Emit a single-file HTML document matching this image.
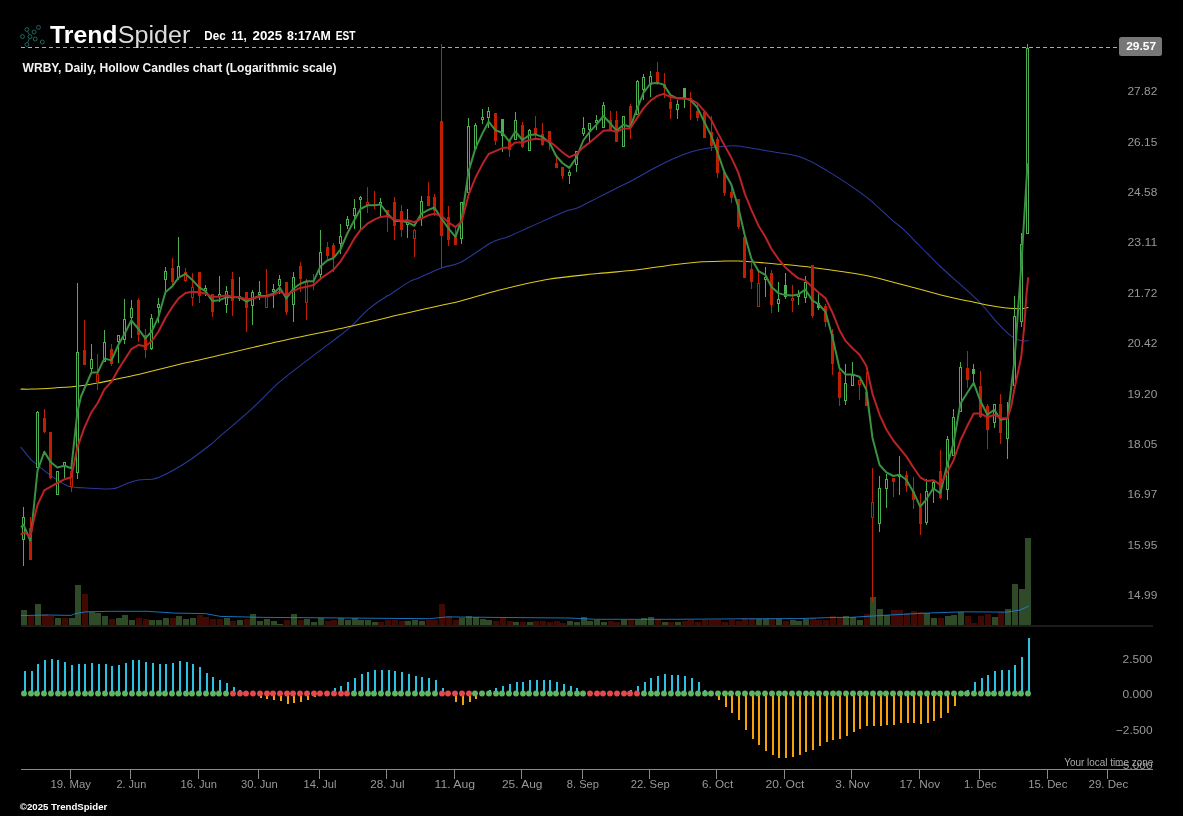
<!DOCTYPE html>
<html lang="en"><head><meta charset="utf-8"><title>TrendSpider WRBY Daily chart</title>
<style>html,body{margin:0;padding:0;background:#000;}body{width:1183px;height:816px;overflow:hidden;}svg{display:block;}text{font-family:"Liberation Sans",sans-serif;}</style>
</head><body>
<svg width="1183" height="816" viewBox="0 0 1183 816">
<rect width="1183" height="816" fill="#000"/>
<g shape-rendering="crispEdges">
<rect x="21" y="610" width="6" height="15" fill="#2f4a27"/>
<rect x="28" y="616" width="6" height="9" fill="#400a02"/>
<rect x="35" y="604" width="6" height="21" fill="#2f4a27"/>
<rect x="42" y="614" width="6" height="11" fill="#400a02"/>
<rect x="48" y="616" width="6" height="9" fill="#400a02"/>
<rect x="55" y="618" width="6" height="7" fill="#2f4a27"/>
<rect x="62" y="618" width="6" height="7" fill="#400a02"/>
<rect x="69" y="618" width="6" height="7" fill="#2f4a27"/>
<rect x="75" y="585" width="6" height="40" fill="#2f4a27"/>
<rect x="82" y="594" width="6" height="31" fill="#400a02"/>
<rect x="89" y="612" width="6" height="13" fill="#2f4a27"/>
<rect x="95" y="613" width="6" height="12" fill="#2f4a27"/>
<rect x="102" y="616" width="6" height="9" fill="#2f4a27"/>
<rect x="109" y="619" width="6" height="6" fill="#400a02"/>
<rect x="116" y="618" width="6" height="7" fill="#2f4a27"/>
<rect x="122" y="615" width="6" height="10" fill="#2f4a27"/>
<rect x="129" y="620" width="6" height="5" fill="#2f4a27"/>
<rect x="136" y="618" width="6" height="7" fill="#400a02"/>
<rect x="143" y="619" width="6" height="6" fill="#400a02"/>
<rect x="149" y="620" width="6" height="5" fill="#2f4a27"/>
<rect x="156" y="620" width="6" height="5" fill="#2f4a27"/>
<rect x="163" y="618" width="6" height="7" fill="#2f4a27"/>
<rect x="170" y="618" width="6" height="7" fill="#400a02"/>
<rect x="176" y="616" width="6" height="9" fill="#2f4a27"/>
<rect x="183" y="619" width="6" height="6" fill="#2f4a27"/>
<rect x="190" y="618" width="6" height="7" fill="#2f4a27"/>
<rect x="197" y="615" width="6" height="10" fill="#400a02"/>
<rect x="203" y="617" width="6" height="8" fill="#400a02"/>
<rect x="210" y="619" width="6" height="6" fill="#400a02"/>
<rect x="217" y="619" width="6" height="6" fill="#400a02"/>
<rect x="224" y="618" width="6" height="7" fill="#2f4a27"/>
<rect x="230" y="621" width="6" height="4" fill="#400a02"/>
<rect x="237" y="620" width="6" height="5" fill="#2f4a27"/>
<rect x="244" y="619" width="6" height="6" fill="#400a02"/>
<rect x="250" y="614" width="6" height="11" fill="#2f4a27"/>
<rect x="257" y="621" width="6" height="4" fill="#2f4a27"/>
<rect x="264" y="619" width="6" height="6" fill="#2f4a27"/>
<rect x="271" y="621" width="6" height="4" fill="#2f4a27"/>
<rect x="277" y="624" width="6" height="1" fill="#2f4a27"/>
<rect x="284" y="620" width="6" height="5" fill="#400a02"/>
<rect x="291" y="614" width="6" height="11" fill="#2f4a27"/>
<rect x="298" y="620" width="6" height="5" fill="#400a02"/>
<rect x="304" y="619" width="6" height="6" fill="#2f4a27"/>
<rect x="311" y="622" width="6" height="3" fill="#2f4a27"/>
<rect x="318" y="618" width="6" height="7" fill="#2f4a27"/>
<rect x="325" y="621" width="6" height="4" fill="#400a02"/>
<rect x="331" y="620" width="6" height="5" fill="#400a02"/>
<rect x="338" y="618" width="6" height="7" fill="#2f4a27"/>
<rect x="345" y="620" width="6" height="5" fill="#2f4a27"/>
<rect x="352" y="618" width="6" height="7" fill="#2f4a27"/>
<rect x="358" y="620" width="6" height="5" fill="#2f4a27"/>
<rect x="365" y="620" width="6" height="5" fill="#2f4a27"/>
<rect x="372" y="622" width="6" height="3" fill="#2f4a27"/>
<rect x="378" y="622" width="6" height="3" fill="#400a02"/>
<rect x="385" y="620" width="6" height="5" fill="#400a02"/>
<rect x="392" y="620" width="6" height="5" fill="#400a02"/>
<rect x="399" y="621" width="6" height="4" fill="#400a02"/>
<rect x="405" y="621" width="6" height="4" fill="#2f4a27"/>
<rect x="412" y="620" width="6" height="5" fill="#2f4a27"/>
<rect x="419" y="621" width="6" height="4" fill="#2f4a27"/>
<rect x="426" y="620" width="6" height="5" fill="#400a02"/>
<rect x="432" y="620" width="6" height="5" fill="#400a02"/>
<rect x="439" y="604" width="6" height="21" fill="#400a02"/>
<rect x="446" y="616" width="6" height="9" fill="#400a02"/>
<rect x="453" y="620" width="6" height="5" fill="#400a02"/>
<rect x="459" y="618" width="6" height="7" fill="#2f4a27"/>
<rect x="466" y="616" width="6" height="9" fill="#2f4a27"/>
<rect x="473" y="617" width="6" height="8" fill="#2f4a27"/>
<rect x="480" y="619" width="6" height="6" fill="#2f4a27"/>
<rect x="486" y="620" width="6" height="5" fill="#2f4a27"/>
<rect x="493" y="621" width="6" height="4" fill="#400a02"/>
<rect x="500" y="618" width="6" height="7" fill="#400a02"/>
<rect x="507" y="621" width="6" height="4" fill="#400a02"/>
<rect x="513" y="622" width="6" height="3" fill="#2f4a27"/>
<rect x="520" y="622" width="6" height="3" fill="#400a02"/>
<rect x="527" y="622" width="6" height="3" fill="#2f4a27"/>
<rect x="533" y="621" width="6" height="4" fill="#400a02"/>
<rect x="540" y="621" width="6" height="4" fill="#400a02"/>
<rect x="547" y="622" width="6" height="3" fill="#400a02"/>
<rect x="554" y="621" width="6" height="4" fill="#400a02"/>
<rect x="560" y="623" width="6" height="2" fill="#400a02"/>
<rect x="567" y="621" width="6" height="4" fill="#2f4a27"/>
<rect x="574" y="622" width="6" height="3" fill="#2f4a27"/>
<rect x="581" y="617" width="6" height="8" fill="#2f4a27"/>
<rect x="587" y="621" width="6" height="4" fill="#2f4a27"/>
<rect x="594" y="620" width="6" height="5" fill="#2f4a27"/>
<rect x="601" y="622" width="6" height="3" fill="#2f4a27"/>
<rect x="608" y="621" width="6" height="4" fill="#400a02"/>
<rect x="614" y="622" width="6" height="3" fill="#400a02"/>
<rect x="621" y="620" width="6" height="5" fill="#2f4a27"/>
<rect x="628" y="620" width="6" height="5" fill="#400a02"/>
<rect x="635" y="620" width="6" height="5" fill="#2f4a27"/>
<rect x="641" y="618" width="6" height="7" fill="#2f4a27"/>
<rect x="648" y="617" width="6" height="8" fill="#2f4a27"/>
<rect x="655" y="619" width="6" height="6" fill="#400a02"/>
<rect x="662" y="622" width="6" height="3" fill="#2f4a27"/>
<rect x="668" y="622" width="6" height="3" fill="#400a02"/>
<rect x="675" y="622" width="6" height="3" fill="#2f4a27"/>
<rect x="682" y="621" width="6" height="4" fill="#400a02"/>
<rect x="688" y="620" width="6" height="5" fill="#400a02"/>
<rect x="695" y="622" width="6" height="3" fill="#400a02"/>
<rect x="702" y="620" width="6" height="5" fill="#400a02"/>
<rect x="709" y="620" width="6" height="5" fill="#400a02"/>
<rect x="715" y="620" width="6" height="5" fill="#400a02"/>
<rect x="722" y="622" width="6" height="3" fill="#400a02"/>
<rect x="729" y="620" width="6" height="5" fill="#400a02"/>
<rect x="736" y="621" width="6" height="4" fill="#400a02"/>
<rect x="742" y="618" width="6" height="7" fill="#400a02"/>
<rect x="749" y="618" width="6" height="7" fill="#400a02"/>
<rect x="756" y="619" width="6" height="6" fill="#2f4a27"/>
<rect x="763" y="619" width="6" height="6" fill="#2f4a27"/>
<rect x="769" y="619" width="6" height="6" fill="#400a02"/>
<rect x="776" y="619" width="6" height="6" fill="#2f4a27"/>
<rect x="783" y="621" width="6" height="4" fill="#400a02"/>
<rect x="790" y="620" width="6" height="5" fill="#2f4a27"/>
<rect x="796" y="621" width="6" height="4" fill="#2f4a27"/>
<rect x="803" y="619" width="6" height="6" fill="#2f4a27"/>
<rect x="810" y="618" width="6" height="7" fill="#400a02"/>
<rect x="816" y="620" width="6" height="5" fill="#400a02"/>
<rect x="823" y="620" width="6" height="5" fill="#400a02"/>
<rect x="830" y="616" width="6" height="9" fill="#400a02"/>
<rect x="837" y="617" width="6" height="8" fill="#400a02"/>
<rect x="843" y="616" width="6" height="9" fill="#2f4a27"/>
<rect x="850" y="617" width="6" height="8" fill="#2f4a27"/>
<rect x="857" y="620" width="6" height="5" fill="#2f4a27"/>
<rect x="864" y="614" width="6" height="11" fill="#400a02"/>
<rect x="870" y="597" width="6" height="28" fill="#2f4a27"/>
<rect x="877" y="609" width="6" height="16" fill="#2f4a27"/>
<rect x="884" y="615" width="6" height="10" fill="#2f4a27"/>
<rect x="891" y="610" width="6" height="15" fill="#400a02"/>
<rect x="897" y="610" width="6" height="15" fill="#400a02"/>
<rect x="904" y="613" width="6" height="12" fill="#400a02"/>
<rect x="911" y="611" width="6" height="14" fill="#400a02"/>
<rect x="918" y="612" width="6" height="13" fill="#400a02"/>
<rect x="924" y="613" width="6" height="12" fill="#2f4a27"/>
<rect x="931" y="618" width="6" height="7" fill="#2f4a27"/>
<rect x="938" y="618" width="6" height="7" fill="#400a02"/>
<rect x="945" y="616" width="6" height="9" fill="#2f4a27"/>
<rect x="951" y="615" width="6" height="10" fill="#2f4a27"/>
<rect x="958" y="612" width="6" height="13" fill="#2f4a27"/>
<rect x="965" y="616" width="6" height="9" fill="#400a02"/>
<rect x="971" y="623" width="6" height="2" fill="#400a02"/>
<rect x="978" y="616" width="6" height="9" fill="#400a02"/>
<rect x="985" y="614" width="6" height="11" fill="#400a02"/>
<rect x="992" y="617" width="6" height="8" fill="#2f4a27"/>
<rect x="998" y="612" width="6" height="13" fill="#400a02"/>
<rect x="1005" y="609" width="6" height="16" fill="#2f4a27"/>
<rect x="1012" y="584" width="6" height="41" fill="#2f4a27"/>
<rect x="1019" y="589" width="6" height="36" fill="#2f4a27"/>
<rect x="1025" y="538" width="6" height="87" fill="#2f4a27"/>
</g>
<polyline fill="none" stroke="#1d84dc" stroke-width="1" stroke-opacity="0.85" points="20.9,615.6 48,615 70.9,615.4 76,613.5 86,611.8 111.4,611.3 147,611.3 174.8,613.1 205.3,613.6 220.5,616.4 263.6,617.4 310,617.7 366,618.2 429.5,618.7 447.2,616.9 492.9,617.4 569,618 595.4,619.3 671.4,619.3 747.5,618.8 798.3,618.6 836.3,617.4 850,617.4 888,615.1 926,613.1 964,611.8 1007,612.1 1020,610 1028.8,606.2"/>
<rect x="21" y="625" width="1132" height="2" fill="#1c1c1c"/>
<line x1="21" y1="47.5" x2="1119" y2="47.5" stroke="#aaa" stroke-width="1" stroke-dasharray="4 3"/>
<path fill="none" stroke="#2a3a9c" stroke-width="1.05" stroke-linecap="round" d="M21.0 447.4 C22.6 449.3 27.6 456.0 30.3 458.9 C33.0 461.8 34.1 462.2 37.5 465.0 C40.9 467.8 46.2 472.4 50.7 475.6 C55.2 478.8 61.0 482.3 64.4 484.2 C67.8 486.1 68.1 486.5 71.3 487.1 C74.5 487.7 76.8 487.5 83.5 487.8 C90.2 488.1 104.8 489.4 111.7 488.8 C118.7 488.2 120.8 485.7 125.2 484.2 C129.7 482.7 134.0 480.8 138.4 480.0 C142.8 479.2 148.3 479.7 151.7 479.3 C155.0 478.9 155.1 478.9 158.5 477.5 C161.9 476.1 167.1 473.6 172.3 470.7 C177.6 467.8 183.7 464.3 190.0 460.0 C196.3 455.7 204.9 449.0 210.0 445.0 C215.1 441.0 213.6 441.8 220.4 435.9 C227.2 430.0 241.1 418.6 250.9 409.6 C260.7 400.7 269.2 391.0 279.3 382.2 C289.4 373.4 301.6 364.6 311.7 356.8 C321.8 349.0 333.3 340.7 340.1 335.5 C346.9 330.3 347.6 329.8 352.3 325.4 C357.0 321.0 362.8 313.9 368.5 309.1 C374.2 304.3 382.7 298.9 386.3 296.5 C389.9 294.1 386.3 297.0 390.0 294.6 C393.7 292.2 403.7 285.0 408.7 282.1 C413.7 279.2 414.5 279.8 420.0 277.4 C425.5 275.0 434.6 270.6 441.6 268.0 C448.6 265.4 453.6 265.9 461.8 261.7 C470.0 257.5 483.4 246.8 491.0 242.7 C498.6 238.6 501.5 239.3 507.5 236.9 C513.5 234.5 519.6 231.6 527.0 228.3 C534.4 225.0 545.1 220.2 551.6 217.3 C558.1 214.4 562.0 212.7 566.3 211.1 C570.6 209.5 572.1 210.1 577.2 207.9 C582.3 205.7 590.3 201.4 596.8 198.1 C603.3 194.8 610.3 191.4 616.4 188.3 C622.5 185.2 627.4 183.0 633.5 179.7 C639.6 176.4 646.6 172.2 653.1 168.7 C659.6 165.2 666.2 161.8 672.7 158.9 C679.2 156.0 685.9 153.4 692.4 151.5 C698.9 149.6 706.5 148.3 712.0 147.4 C717.5 146.5 721.1 146.5 725.4 146.3 C729.7 146.1 731.7 145.3 738.0 146.0 C744.3 146.7 753.2 148.5 763.4 150.3 C773.5 152.1 788.3 153.2 798.9 156.6 C809.5 160.0 815.8 164.0 826.8 170.6 C837.8 177.2 854.0 187.7 864.8 195.9 C875.6 204.1 885.2 214.1 891.6 219.6 C898.0 225.1 898.2 224.5 902.9 228.9 C907.6 233.3 913.7 239.7 920.0 246.0 C926.3 252.3 934.2 260.6 940.9 267.0 C947.6 273.4 954.8 279.5 960.0 284.2 C965.2 288.9 968.2 291.3 972.3 295.2 C976.4 299.1 980.4 303.0 984.5 307.5 C988.6 312.0 992.7 317.7 996.8 322.2 C1000.9 326.7 1005.7 331.5 1009.0 334.4 C1012.3 337.2 1013.9 338.2 1016.4 339.3 C1018.9 340.4 1021.8 340.8 1023.7 341.0 C1025.7 341.2 1027.4 340.6 1028.1 340.5"/>
<path fill="none" stroke="#ddca1c" stroke-width="1.05" stroke-linecap="round" d="M21.0 389.1 C22.8 389.1 26.5 389.3 32.0 389.1 C37.5 388.9 46.5 388.4 54.1 387.9 C61.7 387.4 70.1 387.0 77.4 386.2 C84.7 385.4 90.9 384.2 97.7 383.0 C104.5 381.8 111.5 380.2 118.3 378.8 C125.1 377.4 131.7 375.9 138.4 374.4 C145.1 372.8 151.8 371.1 158.5 369.5 C165.2 367.9 173.3 365.9 178.6 364.6 C183.8 363.3 186.6 362.7 190.0 361.9 C193.4 361.1 185.7 363.1 199.2 360.0 C212.7 356.9 245.7 348.9 271.2 343.2 C296.7 337.5 330.8 330.8 352.3 326.0 C373.8 321.2 388.7 317.3 400.0 314.6 C411.3 311.9 409.9 312.2 420.0 309.9 C430.1 307.6 447.9 304.2 460.6 301.0 C473.3 297.8 481.7 294.5 496.1 290.9 C510.5 287.3 529.9 282.4 546.8 279.5 C563.7 276.6 582.7 275.2 597.5 273.6 C612.3 272.0 622.9 271.6 635.6 270.1 C648.3 268.6 663.0 266.1 673.6 264.7 C684.2 263.3 691.3 262.6 699.0 262.0 C706.7 261.4 713.5 261.3 720.0 261.2 C726.5 261.1 728.7 260.7 738.0 261.1 C747.3 261.6 763.3 262.8 776.0 263.9 C788.7 265.0 799.3 265.8 814.1 267.7 C828.9 269.6 850.0 272.5 864.8 275.3 C879.6 278.1 890.2 281.4 902.9 284.7 C915.6 288.0 931.4 292.4 940.9 294.9 C950.4 297.3 954.8 298.2 960.0 299.4 C965.2 300.5 968.2 300.9 972.3 301.8 C976.4 302.7 980.4 303.7 984.5 304.5 C988.6 305.3 992.7 306.1 996.8 306.7 C1000.9 307.3 1004.9 307.9 1009.0 308.2 C1013.1 308.5 1018.1 308.8 1021.3 308.7 C1024.5 308.6 1027.0 307.7 1028.1 307.5"/>
<g shape-rendering="crispEdges">
<rect x="23" y="507" width="1" height="10" fill="#4caf50"/>
<rect x="23" y="540" width="1" height="26" fill="#4caf50"/>
<rect x="22.5" y="517.5" width="2" height="22" fill="#000" stroke="#4caf50" stroke-width="1"/>
<rect x="30" y="517" width="1" height="43" fill="#c01e00"/>
<rect x="29" y="528" width="3" height="32" fill="#c01e00"/>
<rect x="37" y="411" width="1" height="1" fill="#4caf50"/>
<rect x="36.5" y="412.5" width="2" height="55" fill="#000" stroke="#4caf50" stroke-width="1"/>
<rect x="44" y="409" width="1" height="24" fill="#c01e00"/>
<rect x="43" y="418" width="3" height="14" fill="#c01e00"/>
<rect x="50" y="432" width="1" height="47" fill="#c01e00"/>
<rect x="49" y="432" width="3" height="46" fill="#c01e00"/>
<rect x="56.5" y="471.5" width="2" height="23" fill="#000" stroke="#4caf50" stroke-width="1"/>
<rect x="64" y="466" width="1" height="12" fill="#4caf50"/>
<rect x="63.5" y="462.5" width="2" height="3" fill="#000" stroke="#4caf50" stroke-width="1"/>
<rect x="71" y="460" width="1" height="11" fill="#c01e00"/>
<rect x="71" y="487" width="1" height="5" fill="#c01e00"/>
<rect x="70.5" y="471.5" width="2" height="15" fill="#000" stroke="#c01e00" stroke-width="1"/>
<rect x="77" y="283" width="1" height="69" fill="#4caf50"/>
<rect x="77" y="473" width="1" height="6" fill="#4caf50"/>
<rect x="76.5" y="352.5" width="2" height="120" fill="#000" stroke="#4caf50" stroke-width="1"/>
<rect x="84" y="320" width="1" height="45" fill="#c01e00"/>
<rect x="83" y="350" width="3" height="15" fill="#c01e00"/>
<rect x="91" y="344" width="1" height="15" fill="#4caf50"/>
<rect x="91" y="369" width="1" height="4" fill="#4caf50"/>
<rect x="90.5" y="359.5" width="2" height="9" fill="#000" stroke="#4caf50" stroke-width="1"/>
<rect x="97" y="354" width="1" height="20" fill="#c01e00"/>
<rect x="97" y="382" width="1" height="8" fill="#c01e00"/>
<rect x="96.5" y="374.5" width="2" height="7" fill="#000" stroke="#c01e00" stroke-width="1"/>
<rect x="104" y="330" width="1" height="12" fill="#4caf50"/>
<rect x="103.5" y="342.5" width="2" height="19" fill="#000" stroke="#4caf50" stroke-width="1"/>
<rect x="111" y="344" width="1" height="22" fill="#c01e00"/>
<rect x="110" y="349" width="3" height="15" fill="#c01e00"/>
<rect x="118" y="342" width="1" height="21" fill="#4caf50"/>
<rect x="117.5" y="335.5" width="2" height="6" fill="#000" stroke="#4caf50" stroke-width="1"/>
<rect x="124" y="299" width="1" height="20" fill="#4caf50"/>
<rect x="124" y="340" width="1" height="4" fill="#4caf50"/>
<rect x="123.5" y="319.5" width="2" height="20" fill="#000" stroke="#4caf50" stroke-width="1"/>
<rect x="131" y="300" width="1" height="8" fill="#4caf50"/>
<rect x="131" y="318" width="1" height="20" fill="#4caf50"/>
<rect x="130.5" y="308.5" width="2" height="9" fill="#000" stroke="#4caf50" stroke-width="1"/>
<rect x="138" y="298" width="1" height="44" fill="#c01e00"/>
<rect x="137" y="300" width="3" height="35" fill="#c01e00"/>
<rect x="145" y="329" width="1" height="29" fill="#c01e00"/>
<rect x="144" y="335" width="3" height="15" fill="#c01e00"/>
<rect x="151" y="314" width="1" height="4" fill="#4caf50"/>
<rect x="151" y="349" width="1" height="1" fill="#4caf50"/>
<rect x="150.5" y="318.5" width="2" height="30" fill="#000" stroke="#4caf50" stroke-width="1"/>
<rect x="158" y="298" width="1" height="6" fill="#4caf50"/>
<rect x="158" y="308" width="1" height="15" fill="#4caf50"/>
<rect x="157.5" y="304.5" width="2" height="3" fill="#000" stroke="#4caf50" stroke-width="1"/>
<rect x="165" y="267" width="1" height="4" fill="#4caf50"/>
<rect x="165" y="280" width="1" height="11" fill="#4caf50"/>
<rect x="164.5" y="271.5" width="2" height="8" fill="#000" stroke="#4caf50" stroke-width="1"/>
<rect x="172" y="258" width="1" height="28" fill="#c01e00"/>
<rect x="171" y="268" width="3" height="14" fill="#c01e00"/>
<rect x="178" y="237" width="1" height="29" fill="#4caf50"/>
<rect x="178" y="278" width="1" height="2" fill="#4caf50"/>
<rect x="177.5" y="266.5" width="2" height="11" fill="#000" stroke="#4caf50" stroke-width="1"/>
<rect x="185" y="268" width="1" height="4" fill="#c01e00"/>
<rect x="185" y="281" width="1" height="1" fill="#c01e00"/>
<rect x="184.5" y="272.5" width="2" height="8" fill="#000" stroke="#c01e00" stroke-width="1"/>
<rect x="192" y="273" width="1" height="14" fill="#c01e00"/>
<rect x="192" y="298" width="1" height="8" fill="#c01e00"/>
<rect x="191.5" y="287.5" width="2" height="10" fill="#000" stroke="#c01e00" stroke-width="1"/>
<rect x="199" y="272" width="1" height="31" fill="#c01e00"/>
<rect x="198" y="272" width="3" height="24" fill="#c01e00"/>
<rect x="205" y="285" width="1" height="3" fill="#4caf50"/>
<rect x="205" y="291" width="1" height="5" fill="#4caf50"/>
<rect x="204.5" y="288.5" width="2" height="2" fill="#000" stroke="#4caf50" stroke-width="1"/>
<rect x="212" y="294" width="1" height="23" fill="#c01e00"/>
<rect x="211" y="294" width="3" height="18" fill="#c01e00"/>
<rect x="219" y="276" width="1" height="18" fill="#4caf50"/>
<rect x="219" y="297" width="1" height="5" fill="#4caf50"/>
<rect x="218.5" y="294.5" width="2" height="2" fill="#000" stroke="#4caf50" stroke-width="1"/>
<rect x="226" y="286" width="1" height="5" fill="#4caf50"/>
<rect x="226" y="305" width="1" height="8" fill="#4caf50"/>
<rect x="225.5" y="291.5" width="2" height="13" fill="#000" stroke="#4caf50" stroke-width="1"/>
<rect x="232" y="272" width="1" height="44" fill="#c01e00"/>
<rect x="231" y="279" width="3" height="22" fill="#c01e00"/>
<rect x="239" y="277" width="1" height="19" fill="#4caf50"/>
<rect x="239" y="299" width="1" height="2" fill="#4caf50"/>
<rect x="238.5" y="296.5" width="2" height="2" fill="#000" stroke="#4caf50" stroke-width="1"/>
<rect x="246" y="292" width="1" height="40" fill="#c01e00"/>
<rect x="245" y="292" width="3" height="16" fill="#c01e00"/>
<rect x="252" y="290" width="1" height="2" fill="#4caf50"/>
<rect x="252" y="306" width="1" height="19" fill="#4caf50"/>
<rect x="251.5" y="292.5" width="2" height="13" fill="#000" stroke="#4caf50" stroke-width="1"/>
<rect x="259" y="281" width="1" height="11" fill="#4caf50"/>
<rect x="259" y="295" width="1" height="5" fill="#4caf50"/>
<rect x="258.5" y="292.5" width="2" height="2" fill="#000" stroke="#4caf50" stroke-width="1"/>
<rect x="266" y="269" width="1" height="27" fill="#c01e00"/>
<rect x="265.5" y="296.5" width="2" height="11" fill="#000" stroke="#c01e00" stroke-width="1"/>
<rect x="273" y="284" width="1" height="5" fill="#4caf50"/>
<rect x="273" y="292" width="1" height="16" fill="#4caf50"/>
<rect x="272.5" y="289.5" width="2" height="2" fill="#000" stroke="#4caf50" stroke-width="1"/>
<rect x="279" y="275" width="1" height="4" fill="#4caf50"/>
<rect x="279" y="286" width="1" height="8" fill="#4caf50"/>
<rect x="278.5" y="279.5" width="2" height="6" fill="#000" stroke="#4caf50" stroke-width="1"/>
<rect x="286" y="282" width="1" height="33" fill="#c01e00"/>
<rect x="285" y="282" width="3" height="30" fill="#c01e00"/>
<rect x="293" y="272" width="1" height="5" fill="#4caf50"/>
<rect x="293" y="305" width="1" height="17" fill="#4caf50"/>
<rect x="292.5" y="277.5" width="2" height="27" fill="#000" stroke="#4caf50" stroke-width="1"/>
<rect x="300" y="262" width="1" height="30" fill="#c01e00"/>
<rect x="299" y="266" width="3" height="13" fill="#c01e00"/>
<rect x="306" y="279" width="1" height="3" fill="#c01e00"/>
<rect x="306" y="303" width="1" height="17" fill="#c01e00"/>
<rect x="305.5" y="282.5" width="2" height="20" fill="#000" stroke="#c01e00" stroke-width="1"/>
<rect x="313" y="274" width="1" height="16" fill="#c01e00"/>
<rect x="312" y="284" width="3" height="2" fill="#c01e00"/>
<rect x="320" y="230" width="1" height="22" fill="#4caf50"/>
<rect x="320" y="275" width="1" height="5" fill="#4caf50"/>
<rect x="319.5" y="252.5" width="2" height="22" fill="#000" stroke="#4caf50" stroke-width="1"/>
<rect x="327" y="242" width="1" height="17" fill="#c01e00"/>
<rect x="326" y="247" width="3" height="9" fill="#c01e00"/>
<rect x="333" y="243" width="1" height="29" fill="#c01e00"/>
<rect x="332" y="245" width="3" height="12" fill="#c01e00"/>
<rect x="340" y="224" width="1" height="12" fill="#4caf50"/>
<rect x="340" y="244" width="1" height="10" fill="#4caf50"/>
<rect x="339.5" y="236.5" width="2" height="7" fill="#000" stroke="#4caf50" stroke-width="1"/>
<rect x="347" y="216" width="1" height="3" fill="#4caf50"/>
<rect x="347" y="226" width="1" height="3" fill="#4caf50"/>
<rect x="346.5" y="219.5" width="2" height="6" fill="#000" stroke="#4caf50" stroke-width="1"/>
<rect x="354" y="199" width="1" height="9" fill="#4caf50"/>
<rect x="354" y="216" width="1" height="13" fill="#4caf50"/>
<rect x="353.5" y="208.5" width="2" height="7" fill="#000" stroke="#4caf50" stroke-width="1"/>
<rect x="360" y="196" width="1" height="1" fill="#4caf50"/>
<rect x="360" y="200" width="1" height="29" fill="#4caf50"/>
<rect x="359.5" y="197.5" width="2" height="2" fill="#000" stroke="#4caf50" stroke-width="1"/>
<rect x="367" y="187" width="1" height="15" fill="#c01e00"/>
<rect x="367" y="205" width="1" height="8" fill="#c01e00"/>
<rect x="366.5" y="202.5" width="2" height="2" fill="#000" stroke="#c01e00" stroke-width="1"/>
<rect x="374" y="191" width="1" height="18" fill="#c01e00"/>
<rect x="373" y="204" width="3" height="2" fill="#c01e00"/>
<rect x="380" y="198" width="1" height="4" fill="#4caf50"/>
<rect x="380" y="205" width="1" height="13" fill="#4caf50"/>
<rect x="379.5" y="202.5" width="2" height="2" fill="#000" stroke="#4caf50" stroke-width="1"/>
<rect x="387" y="210" width="1" height="22" fill="#c01e00"/>
<rect x="386" y="210" width="3" height="6" fill="#c01e00"/>
<rect x="394" y="197" width="1" height="43" fill="#c01e00"/>
<rect x="393" y="202" width="3" height="24" fill="#c01e00"/>
<rect x="401" y="205" width="1" height="32" fill="#c01e00"/>
<rect x="400" y="211" width="3" height="19" fill="#c01e00"/>
<rect x="407" y="209" width="1" height="13" fill="#4caf50"/>
<rect x="407" y="225" width="1" height="13" fill="#4caf50"/>
<rect x="406.5" y="222.5" width="2" height="2" fill="#000" stroke="#4caf50" stroke-width="1"/>
<rect x="414" y="229" width="1" height="1" fill="#c01e00"/>
<rect x="414" y="239" width="1" height="18" fill="#c01e00"/>
<rect x="413.5" y="230.5" width="2" height="8" fill="#000" stroke="#c01e00" stroke-width="1"/>
<rect x="421" y="196" width="1" height="5" fill="#4caf50"/>
<rect x="421" y="219" width="1" height="7" fill="#4caf50"/>
<rect x="420.5" y="201.5" width="2" height="17" fill="#000" stroke="#4caf50" stroke-width="1"/>
<rect x="428" y="182" width="1" height="24" fill="#c01e00"/>
<rect x="427" y="196" width="3" height="10" fill="#c01e00"/>
<rect x="434" y="194" width="1" height="22" fill="#c01e00"/>
<rect x="433" y="197" width="3" height="14" fill="#c01e00"/>
<rect x="441" y="44" width="1" height="224" fill="#c01e00"/>
<rect x="440" y="121" width="3" height="115" fill="#c01e00"/>
<rect x="448" y="206" width="1" height="40" fill="#c01e00"/>
<rect x="447" y="217" width="3" height="23" fill="#c01e00"/>
<rect x="455" y="227" width="1" height="18" fill="#c01e00"/>
<rect x="454" y="237" width="3" height="8" fill="#c01e00"/>
<rect x="461" y="239" width="1" height="5" fill="#4caf50"/>
<rect x="460.5" y="202.5" width="2" height="36" fill="#000" stroke="#4caf50" stroke-width="1"/>
<rect x="468" y="118" width="1" height="8" fill="#4caf50"/>
<rect x="468" y="193" width="1" height="4" fill="#4caf50"/>
<rect x="467.5" y="126.5" width="2" height="66" fill="#000" stroke="#4caf50" stroke-width="1"/>
<rect x="475" y="123" width="1" height="2" fill="#4caf50"/>
<rect x="474.5" y="125.5" width="2" height="23" fill="#000" stroke="#4caf50" stroke-width="1"/>
<rect x="482" y="109" width="1" height="8" fill="#4caf50"/>
<rect x="482" y="120" width="1" height="4" fill="#4caf50"/>
<rect x="481.5" y="117.5" width="2" height="2" fill="#000" stroke="#4caf50" stroke-width="1"/>
<rect x="488" y="107" width="1" height="4" fill="#4caf50"/>
<rect x="488" y="118" width="1" height="10" fill="#4caf50"/>
<rect x="487.5" y="111.5" width="2" height="6" fill="#000" stroke="#4caf50" stroke-width="1"/>
<rect x="495" y="113" width="1" height="32" fill="#c01e00"/>
<rect x="494" y="113" width="3" height="28" fill="#c01e00"/>
<rect x="502" y="119" width="1" height="33" fill="#4caf50"/>
<rect x="501" y="119" width="3" height="17" fill="#4caf50"/>
<rect x="509" y="141" width="1" height="16" fill="#c01e00"/>
<rect x="508" y="141" width="3" height="9" fill="#c01e00"/>
<rect x="515" y="112" width="1" height="8" fill="#4caf50"/>
<rect x="514.5" y="120.5" width="2" height="19" fill="#000" stroke="#4caf50" stroke-width="1"/>
<rect x="522" y="122" width="1" height="26" fill="#c01e00"/>
<rect x="521" y="125" width="3" height="22" fill="#c01e00"/>
<rect x="529" y="129" width="1" height="1" fill="#4caf50"/>
<rect x="528.5" y="130.5" width="2" height="20" fill="#000" stroke="#4caf50" stroke-width="1"/>
<rect x="535" y="116" width="1" height="23" fill="#c01e00"/>
<rect x="534" y="128" width="3" height="7" fill="#c01e00"/>
<rect x="542" y="123" width="1" height="23" fill="#c01e00"/>
<rect x="541" y="134" width="3" height="11" fill="#c01e00"/>
<rect x="549" y="131" width="1" height="19" fill="#c01e00"/>
<rect x="548" y="131" width="3" height="10" fill="#c01e00"/>
<rect x="556" y="155" width="1" height="13" fill="#c01e00"/>
<rect x="555" y="163" width="3" height="5" fill="#c01e00"/>
<rect x="562" y="167" width="1" height="12" fill="#c01e00"/>
<rect x="561" y="167" width="3" height="9" fill="#c01e00"/>
<rect x="569" y="170" width="1" height="2" fill="#4caf50"/>
<rect x="569" y="176" width="1" height="8" fill="#4caf50"/>
<rect x="568.5" y="172.5" width="2" height="3" fill="#000" stroke="#4caf50" stroke-width="1"/>
<rect x="576" y="165" width="1" height="7" fill="#4caf50"/>
<rect x="575.5" y="151.5" width="2" height="13" fill="#000" stroke="#4caf50" stroke-width="1"/>
<rect x="583" y="117" width="1" height="11" fill="#4caf50"/>
<rect x="583" y="134" width="1" height="2" fill="#4caf50"/>
<rect x="582.5" y="128.5" width="2" height="5" fill="#000" stroke="#4caf50" stroke-width="1"/>
<rect x="589" y="130" width="1" height="13" fill="#4caf50"/>
<rect x="588.5" y="123.5" width="2" height="6" fill="#000" stroke="#4caf50" stroke-width="1"/>
<rect x="596" y="115" width="1" height="5" fill="#4caf50"/>
<rect x="596" y="123" width="1" height="7" fill="#4caf50"/>
<rect x="595.5" y="120.5" width="2" height="2" fill="#000" stroke="#4caf50" stroke-width="1"/>
<rect x="603" y="102" width="1" height="3" fill="#4caf50"/>
<rect x="602.5" y="105.5" width="2" height="22" fill="#000" stroke="#4caf50" stroke-width="1"/>
<rect x="610" y="111" width="1" height="19" fill="#c01e00"/>
<rect x="609" y="120" width="3" height="10" fill="#c01e00"/>
<rect x="616" y="111" width="1" height="31" fill="#c01e00"/>
<rect x="615" y="120" width="3" height="22" fill="#c01e00"/>
<rect x="622.5" y="116.5" width="2" height="30" fill="#000" stroke="#4caf50" stroke-width="1"/>
<rect x="630" y="104" width="1" height="35" fill="#c01e00"/>
<rect x="629" y="106" width="3" height="22" fill="#c01e00"/>
<rect x="637" y="80" width="1" height="1" fill="#4caf50"/>
<rect x="636.5" y="81.5" width="2" height="33" fill="#000" stroke="#4caf50" stroke-width="1"/>
<rect x="643" y="74" width="1" height="3" fill="#4caf50"/>
<rect x="643" y="90" width="1" height="10" fill="#4caf50"/>
<rect x="642.5" y="77.5" width="2" height="12" fill="#000" stroke="#4caf50" stroke-width="1"/>
<rect x="650" y="71" width="1" height="5" fill="#4caf50"/>
<rect x="650" y="85" width="1" height="12" fill="#4caf50"/>
<rect x="649.5" y="76.5" width="2" height="8" fill="#000" stroke="#4caf50" stroke-width="1"/>
<rect x="657" y="62" width="1" height="23" fill="#c01e00"/>
<rect x="656" y="72" width="3" height="11" fill="#c01e00"/>
<rect x="664" y="73" width="1" height="11" fill="#c01e00"/>
<rect x="664" y="88" width="1" height="10" fill="#c01e00"/>
<rect x="663.5" y="84.5" width="2" height="3" fill="#000" stroke="#c01e00" stroke-width="1"/>
<rect x="670" y="95" width="1" height="24" fill="#c01e00"/>
<rect x="669" y="102" width="3" height="7" fill="#c01e00"/>
<rect x="677" y="100" width="1" height="4" fill="#4caf50"/>
<rect x="677" y="110" width="1" height="9" fill="#4caf50"/>
<rect x="676.5" y="104.5" width="2" height="5" fill="#000" stroke="#4caf50" stroke-width="1"/>
<rect x="684" y="88" width="1" height="20" fill="#4caf50"/>
<rect x="683" y="88" width="3" height="11" fill="#4caf50"/>
<rect x="690" y="92" width="1" height="6" fill="#c01e00"/>
<rect x="690" y="101" width="1" height="19" fill="#c01e00"/>
<rect x="689.5" y="98.5" width="2" height="2" fill="#000" stroke="#c01e00" stroke-width="1"/>
<rect x="697" y="104" width="1" height="17" fill="#c01e00"/>
<rect x="696" y="111" width="3" height="7" fill="#c01e00"/>
<rect x="704" y="112" width="1" height="26" fill="#c01e00"/>
<rect x="703" y="112" width="3" height="26" fill="#c01e00"/>
<rect x="711" y="116" width="1" height="35" fill="#c01e00"/>
<rect x="710" y="132" width="3" height="14" fill="#c01e00"/>
<rect x="717" y="137" width="1" height="41" fill="#c01e00"/>
<rect x="716" y="139" width="3" height="34" fill="#c01e00"/>
<rect x="724" y="172" width="1" height="24" fill="#c01e00"/>
<rect x="723" y="172" width="3" height="21" fill="#c01e00"/>
<rect x="731" y="186" width="1" height="17" fill="#c01e00"/>
<rect x="730" y="192" width="3" height="6" fill="#c01e00"/>
<rect x="738" y="199" width="1" height="30" fill="#c01e00"/>
<rect x="737" y="199" width="3" height="28" fill="#c01e00"/>
<rect x="744" y="233" width="1" height="45" fill="#c01e00"/>
<rect x="743" y="237" width="3" height="41" fill="#c01e00"/>
<rect x="751" y="262" width="1" height="27" fill="#c01e00"/>
<rect x="750" y="269" width="3" height="13" fill="#c01e00"/>
<rect x="758" y="272" width="1" height="11" fill="#c01e00"/>
<rect x="757.5" y="283.5" width="2" height="23" fill="#000" stroke="#c01e00" stroke-width="1"/>
<rect x="765" y="267" width="1" height="10" fill="#4caf50"/>
<rect x="765" y="280" width="1" height="17" fill="#4caf50"/>
<rect x="764.5" y="277.5" width="2" height="2" fill="#000" stroke="#4caf50" stroke-width="1"/>
<rect x="771" y="270" width="1" height="43" fill="#c01e00"/>
<rect x="770" y="273" width="3" height="32" fill="#c01e00"/>
<rect x="778" y="282" width="1" height="17" fill="#4caf50"/>
<rect x="778" y="304" width="1" height="8" fill="#4caf50"/>
<rect x="777.5" y="299.5" width="2" height="4" fill="#000" stroke="#4caf50" stroke-width="1"/>
<rect x="785" y="273" width="1" height="26" fill="#4caf50"/>
<rect x="784" y="285" width="3" height="12" fill="#4caf50"/>
<rect x="792" y="285" width="1" height="13" fill="#c01e00"/>
<rect x="792" y="301" width="1" height="11" fill="#c01e00"/>
<rect x="791.5" y="298.5" width="2" height="2" fill="#000" stroke="#c01e00" stroke-width="1"/>
<rect x="798" y="290" width="1" height="4" fill="#4caf50"/>
<rect x="798" y="297" width="1" height="8" fill="#4caf50"/>
<rect x="797.5" y="294.5" width="2" height="2" fill="#000" stroke="#4caf50" stroke-width="1"/>
<rect x="805" y="276" width="1" height="6" fill="#4caf50"/>
<rect x="805" y="298" width="1" height="5" fill="#4caf50"/>
<rect x="804.5" y="282.5" width="2" height="15" fill="#000" stroke="#4caf50" stroke-width="1"/>
<rect x="812" y="265" width="1" height="53" fill="#c01e00"/>
<rect x="811" y="265" width="3" height="51" fill="#c01e00"/>
<rect x="818" y="294" width="1" height="16" fill="#4caf50"/>
<rect x="817" y="303" width="3" height="5" fill="#4caf50"/>
<rect x="825" y="304" width="1" height="23" fill="#c01e00"/>
<rect x="824" y="306" width="3" height="16" fill="#c01e00"/>
<rect x="832" y="329" width="1" height="46" fill="#c01e00"/>
<rect x="831" y="334" width="3" height="30" fill="#c01e00"/>
<rect x="839" y="369" width="1" height="37" fill="#c01e00"/>
<rect x="838" y="372" width="3" height="26" fill="#c01e00"/>
<rect x="845" y="364" width="1" height="19" fill="#4caf50"/>
<rect x="845" y="401" width="1" height="4" fill="#4caf50"/>
<rect x="844.5" y="383.5" width="2" height="17" fill="#000" stroke="#4caf50" stroke-width="1"/>
<rect x="852" y="362" width="1" height="13" fill="#4caf50"/>
<rect x="851.5" y="375.5" width="2" height="10" fill="#000" stroke="#4caf50" stroke-width="1"/>
<rect x="859" y="385" width="1" height="15" fill="#c01e00"/>
<rect x="858.5" y="380.5" width="2" height="4" fill="#000" stroke="#c01e00" stroke-width="1"/>
<rect x="866" y="372" width="1" height="34" fill="#c01e00"/>
<rect x="865" y="392" width="3" height="14" fill="#c01e00"/>
<rect x="872" y="468" width="1" height="34" fill="#c01e00"/>
<rect x="872" y="518" width="1" height="84" fill="#c01e00"/>
<rect x="871.5" y="502.5" width="2" height="15" fill="#000" stroke="#c01e00" stroke-width="1"/>
<rect x="879" y="476" width="1" height="12" fill="#4caf50"/>
<rect x="879" y="524" width="1" height="8" fill="#4caf50"/>
<rect x="878.5" y="488.5" width="2" height="35" fill="#000" stroke="#4caf50" stroke-width="1"/>
<rect x="886" y="474" width="1" height="5" fill="#4caf50"/>
<rect x="886" y="489" width="1" height="19" fill="#4caf50"/>
<rect x="885.5" y="479.5" width="2" height="9" fill="#000" stroke="#4caf50" stroke-width="1"/>
<rect x="893" y="478" width="1" height="19" fill="#c01e00"/>
<rect x="892" y="478" width="3" height="4" fill="#c01e00"/>
<rect x="899" y="456" width="1" height="18" fill="#4caf50"/>
<rect x="899" y="477" width="1" height="18" fill="#4caf50"/>
<rect x="898.5" y="474.5" width="2" height="2" fill="#000" stroke="#4caf50" stroke-width="1"/>
<rect x="906" y="471" width="1" height="21" fill="#c01e00"/>
<rect x="905" y="475" width="3" height="11" fill="#c01e00"/>
<rect x="913" y="477" width="1" height="32" fill="#c01e00"/>
<rect x="912" y="491" width="3" height="9" fill="#c01e00"/>
<rect x="920" y="493" width="1" height="42" fill="#c01e00"/>
<rect x="919" y="507" width="3" height="17" fill="#c01e00"/>
<rect x="926" y="479" width="1" height="12" fill="#4caf50"/>
<rect x="926" y="523" width="1" height="2" fill="#4caf50"/>
<rect x="925.5" y="491.5" width="2" height="31" fill="#000" stroke="#4caf50" stroke-width="1"/>
<rect x="933" y="481" width="1" height="1" fill="#4caf50"/>
<rect x="933" y="490" width="1" height="13" fill="#4caf50"/>
<rect x="932.5" y="482.5" width="2" height="7" fill="#000" stroke="#4caf50" stroke-width="1"/>
<rect x="940" y="450" width="1" height="49" fill="#c01e00"/>
<rect x="939" y="471" width="3" height="27" fill="#c01e00"/>
<rect x="947" y="436" width="1" height="3" fill="#4caf50"/>
<rect x="947" y="490" width="1" height="10" fill="#4caf50"/>
<rect x="946.5" y="439.5" width="2" height="50" fill="#000" stroke="#4caf50" stroke-width="1"/>
<rect x="953" y="409" width="1" height="8" fill="#4caf50"/>
<rect x="952.5" y="417.5" width="2" height="38" fill="#000" stroke="#4caf50" stroke-width="1"/>
<rect x="960" y="362" width="1" height="5" fill="#4caf50"/>
<rect x="959.5" y="367.5" width="2" height="44" fill="#000" stroke="#4caf50" stroke-width="1"/>
<rect x="967" y="351" width="1" height="37" fill="#c01e00"/>
<rect x="966" y="368" width="3" height="12" fill="#c01e00"/>
<rect x="973" y="364" width="1" height="19" fill="#4caf50"/>
<rect x="972" y="369" width="3" height="5" fill="#4caf50"/>
<rect x="980" y="371" width="1" height="47" fill="#c01e00"/>
<rect x="979" y="386" width="3" height="31" fill="#c01e00"/>
<rect x="987" y="404" width="1" height="45" fill="#c01e00"/>
<rect x="986" y="406" width="3" height="24" fill="#c01e00"/>
<rect x="994" y="423" width="1" height="5" fill="#4caf50"/>
<rect x="993.5" y="404.5" width="2" height="18" fill="#000" stroke="#4caf50" stroke-width="1"/>
<rect x="1000" y="394" width="1" height="50" fill="#c01e00"/>
<rect x="999" y="404" width="3" height="29" fill="#c01e00"/>
<rect x="1007" y="402" width="1" height="16" fill="#4caf50"/>
<rect x="1007" y="439" width="1" height="20" fill="#4caf50"/>
<rect x="1006.5" y="418.5" width="2" height="20" fill="#000" stroke="#4caf50" stroke-width="1"/>
<rect x="1014" y="296" width="1" height="20" fill="#4caf50"/>
<rect x="1013.5" y="316.5" width="2" height="69" fill="#000" stroke="#4caf50" stroke-width="1"/>
<rect x="1021" y="233" width="1" height="11" fill="#4caf50"/>
<rect x="1021" y="322" width="1" height="5" fill="#4caf50"/>
<rect x="1020.5" y="244.5" width="2" height="77" fill="#000" stroke="#4caf50" stroke-width="1"/>
<rect x="1027" y="44" width="1" height="4" fill="#4caf50"/>
<rect x="1026.5" y="48.5" width="2" height="185" fill="#000" stroke="#4caf50" stroke-width="1"/>
</g>
<polyline fill="none" stroke="#3a9142" stroke-width="2" stroke-linejoin="round" stroke-linecap="round"  points="21.5,526.6 23.5,524.6 30.3,540.5 33.8,507.5 37.5,470.7 44.3,451.8 50.7,462.1 57.3,467.5 64.4,465.8 71.3,468.2 74.2,441.3 77.4,411.9 81,396.5 91.4,372.5 97.7,372.5 104.4,358.5 111.5,360.4 118.3,345 124.5,334 131.3,320.5 138.4,329 145.3,338.4 151.7,331.5 158.5,316.8 165.4,292.3 172.3,286.2 178.6,277.6 185.5,274 192.4,280 199.2,287.4 205.4,291.1 212.3,300.9 219.4,300.2 226.2,297.3 232.6,297.3 239.5,297.3 246.6,301.7 252.5,298.5 259.3,296 266.4,296 273.3,293.6 279.7,287.5 286.3,298.5 293.4,288.7 300.2,283.8 306.6,281.3 313.5,281.3 320.3,266.6 327.2,260.5 333.6,258 340.4,249.5 347.3,233.5 354.4,220 360.5,209 367.4,205.3 374.3,205.3 380.6,204.6 387.6,213.6 394.5,220.9 401.3,220.9 407.5,222.2 414.3,225.8 421.4,213.6 428.3,209.9 434.4,207.5 441.5,218.5 448.4,228.3 455.5,236.9 461.6,219.7 468.5,171.9 475.3,148.6 482.2,133.9 488.6,121.7 495.4,130.2 502.3,132.7 509.2,141.3 515.3,131.5 522.4,140 529.5,135.1 535.4,134.4 542.3,136.9 549.4,142.5 556.2,156 562.4,163 569.3,167.9 576.4,157.6 583.3,140.5 589.7,131.9 596.5,124.6 603.4,116 610.2,123.3 616.6,130.7 623.5,124.6 630.3,127 637.2,108.6 643.6,92.7 650.4,83.6 657.5,82.9 663.7,84.6 670.5,95.1 677.4,98.3 684.3,98.3 690.4,100 697.3,107.4 704.4,122.1 711.2,135.6 717.6,152.7 724.5,172.4 731.3,184.6 738.2,206.7 744.5,234.3 751.4,258.8 758.5,271.1 765.3,274.8 771.5,287 778.3,293.1 785.4,295.1 792.3,295.6 798.4,294.4 805.3,289.5 812.4,300.5 818.5,304.2 825.4,311.5 832.5,337.3 839.4,368 845.5,374.4 852.6,374.4 859.5,376.7 866.3,389.5 872.5,438 879.6,465 886.4,472.4 893.3,476 899.4,474.8 906.3,479.7 913.4,492 920.2,506.7 926.4,499.3 933.2,488.3 940.3,493.2 946.5,467.5 953.6,442.9 960.4,403.7 967.3,392.7 973.7,382.9 980.5,401.3 987.4,414.8 994.3,409.9 1000.6,419.7 1007.5,418.4 1014.5,360 1021.3,265 1027.5,164.3"/>
<polyline fill="none" stroke="#b92226" stroke-width="2" stroke-linejoin="round" stroke-linecap="round"  points="21.5,534 24.7,532.5 30.3,536.9 33.8,519.7 37.5,505 44.3,490.3 50.7,486.6 57.3,483 64.4,479.3 71.3,477.3 77.4,447.4 84.3,427.8 91.4,412.2 97.7,403 104.4,389.4 111.5,381.8 118.3,369.5 124.5,359.7 131.3,349.2 138.4,345 145.3,346.2 151.7,341.3 158.5,331.5 165.4,318 172.3,307 178.6,298.4 185.5,293 192.4,291.8 199.2,292.3 205.4,293.6 212.3,296.8 219.4,296.8 226.2,295.3 232.6,296.8 239.5,297.3 246.6,299.2 252.5,298.5 259.3,296.8 266.4,296.5 273.3,294.8 279.7,291.6 286.3,294.8 293.4,291.1 300.2,287.9 306.6,286.7 313.5,285 320.3,278.9 327.2,274 333.6,269.6 340.4,261.7 347.3,250.7 354.4,238.4 360.5,229.9 367.4,223.7 374.3,219.6 380.6,216.9 387.6,216 394.5,219.7 401.3,220.4 407.5,220.2 414.3,222.2 421.4,218.5 428.3,215.3 434.4,213.6 441.5,216 448.4,222.2 455.5,227.1 461.6,221.7 468.5,195.2 475.3,178 482.2,164.6 488.6,154 495.4,151.1 502.3,148.1 509.2,147.4 515.3,142.5 522.4,142.5 529.5,140 535.4,138.8 542.3,139.6 549.4,141.3 556.2,146.7 562.4,152.3 569.3,157.2 576.4,154 583.3,147.4 589.7,142.5 596.5,136.8 603.4,130.7 610.2,130.2 616.6,131.9 623.5,128.7 630.3,128.2 637.2,117.9 643.6,108.1 650.4,100.8 657.5,95.9 663.7,93.9 670.5,96.9 677.4,98.3 684.3,98.8 690.4,99.3 697.3,103.2 704.4,111.1 711.2,119.7 717.6,132.6 724.5,145.4 731.3,157.6 738.2,172.4 745,194.4 751.4,209.8 758.5,225.7 765.3,236.8 771.5,249 778.3,258.8 785.4,267.4 792.3,273.5 798.4,278.4 805.3,280.4 812.4,287 818.5,292.6 825.4,298 832.5,312.7 839.4,329.9 845.5,340.9 852.6,348.3 859.5,354.7 866.3,365.7 872.5,393.9 879.6,414.8 886.4,429.5 893.3,440.5 899.4,447.8 906.3,456.4 913.4,467.5 920.2,477.3 926.4,480.9 933.2,480.2 940.3,484.6 946.5,473.6 953.6,460.1 960.4,440.5 967.3,425.8 973.7,413.5 980.5,413.5 987.4,417.2 994.3,414.8 1000.6,417.9 1007.5,418.4 1011.2,406.2 1014.4,389 1017.6,374 1021.3,356.5 1024.2,327 1026.2,297.6 1028.1,278"/>
<g shape-rendering="crispEdges">
<rect x="24" y="671" width="2" height="23" fill="#29c2e3"/>
<rect x="31" y="671" width="2" height="23" fill="#29c2e3"/>
<rect x="37" y="664" width="2" height="30" fill="#29c2e3"/>
<rect x="44" y="660" width="2" height="34" fill="#29c2e3"/>
<rect x="51" y="659" width="2" height="35" fill="#29c2e3"/>
<rect x="57" y="660" width="2" height="34" fill="#29c2e3"/>
<rect x="64" y="662" width="2" height="32" fill="#29c2e3"/>
<rect x="71" y="665" width="2" height="29" fill="#29c2e3"/>
<rect x="78" y="664" width="2" height="30" fill="#29c2e3"/>
<rect x="84" y="664" width="2" height="30" fill="#29c2e3"/>
<rect x="91" y="663" width="2" height="31" fill="#29c2e3"/>
<rect x="98" y="664" width="2" height="30" fill="#29c2e3"/>
<rect x="105" y="664" width="2" height="30" fill="#29c2e3"/>
<rect x="111" y="666" width="2" height="28" fill="#29c2e3"/>
<rect x="118" y="665" width="2" height="29" fill="#29c2e3"/>
<rect x="125" y="663" width="2" height="31" fill="#29c2e3"/>
<rect x="132" y="660" width="2" height="34" fill="#29c2e3"/>
<rect x="138" y="660" width="2" height="34" fill="#29c2e3"/>
<rect x="145" y="662" width="2" height="32" fill="#29c2e3"/>
<rect x="152" y="663" width="2" height="31" fill="#29c2e3"/>
<rect x="159" y="664" width="2" height="30" fill="#29c2e3"/>
<rect x="165" y="664" width="2" height="30" fill="#29c2e3"/>
<rect x="172" y="663" width="2" height="31" fill="#29c2e3"/>
<rect x="179" y="661" width="2" height="33" fill="#29c2e3"/>
<rect x="186" y="662" width="2" height="32" fill="#29c2e3"/>
<rect x="192" y="664" width="2" height="30" fill="#29c2e3"/>
<rect x="199" y="667" width="2" height="27" fill="#29c2e3"/>
<rect x="206" y="673" width="2" height="21" fill="#29c2e3"/>
<rect x="212" y="677" width="2" height="17" fill="#29c2e3"/>
<rect x="219" y="680" width="2" height="14" fill="#29c2e3"/>
<rect x="226" y="683" width="2" height="11" fill="#29c2e3"/>
<rect x="233" y="687" width="2" height="7" fill="#29c2e3"/>
<rect x="239" y="690" width="2" height="4" fill="#29c2e3"/>
<rect x="253" y="693" width="2" height="3" fill="#f5a20a"/>
<rect x="260" y="693" width="2" height="5" fill="#f5a20a"/>
<rect x="266" y="693" width="2" height="6" fill="#f5a20a"/>
<rect x="273" y="693" width="2" height="7" fill="#f5a20a"/>
<rect x="280" y="693" width="2" height="8" fill="#f5a20a"/>
<rect x="287" y="693" width="2" height="11" fill="#f5a20a"/>
<rect x="293" y="693" width="2" height="10" fill="#f5a20a"/>
<rect x="300" y="693" width="2" height="9" fill="#f5a20a"/>
<rect x="307" y="693" width="2" height="7" fill="#f5a20a"/>
<rect x="314" y="693" width="2" height="4" fill="#f5a20a"/>
<rect x="334" y="688" width="2" height="6" fill="#29c2e3"/>
<rect x="340" y="686" width="2" height="8" fill="#29c2e3"/>
<rect x="347" y="682" width="2" height="12" fill="#29c2e3"/>
<rect x="354" y="678" width="2" height="16" fill="#29c2e3"/>
<rect x="361" y="674" width="2" height="20" fill="#29c2e3"/>
<rect x="367" y="672" width="2" height="22" fill="#29c2e3"/>
<rect x="374" y="670" width="2" height="24" fill="#29c2e3"/>
<rect x="381" y="670" width="2" height="24" fill="#29c2e3"/>
<rect x="388" y="670" width="2" height="24" fill="#29c2e3"/>
<rect x="394" y="671" width="2" height="23" fill="#29c2e3"/>
<rect x="401" y="672" width="2" height="22" fill="#29c2e3"/>
<rect x="408" y="674" width="2" height="20" fill="#29c2e3"/>
<rect x="415" y="676" width="2" height="18" fill="#29c2e3"/>
<rect x="421" y="677" width="2" height="17" fill="#29c2e3"/>
<rect x="428" y="678" width="2" height="16" fill="#29c2e3"/>
<rect x="435" y="680" width="2" height="14" fill="#29c2e3"/>
<rect x="442" y="688" width="2" height="6" fill="#29c2e3"/>
<rect x="455" y="693" width="2" height="9" fill="#f5a20a"/>
<rect x="462" y="693" width="2" height="12" fill="#f5a20a"/>
<rect x="469" y="693" width="2" height="9" fill="#f5a20a"/>
<rect x="475" y="693" width="2" height="6" fill="#f5a20a"/>
<rect x="489" y="690" width="2" height="4" fill="#29c2e3"/>
<rect x="495" y="688" width="2" height="6" fill="#29c2e3"/>
<rect x="502" y="686" width="2" height="8" fill="#29c2e3"/>
<rect x="509" y="684" width="2" height="10" fill="#29c2e3"/>
<rect x="516" y="682" width="2" height="12" fill="#29c2e3"/>
<rect x="522" y="682" width="2" height="12" fill="#29c2e3"/>
<rect x="529" y="680" width="2" height="14" fill="#29c2e3"/>
<rect x="536" y="680" width="2" height="14" fill="#29c2e3"/>
<rect x="543" y="680" width="2" height="14" fill="#29c2e3"/>
<rect x="549" y="680" width="2" height="14" fill="#29c2e3"/>
<rect x="556" y="682" width="2" height="12" fill="#29c2e3"/>
<rect x="563" y="684" width="2" height="10" fill="#29c2e3"/>
<rect x="570" y="686" width="2" height="8" fill="#29c2e3"/>
<rect x="576" y="688" width="2" height="6" fill="#29c2e3"/>
<rect x="583" y="691" width="2" height="3" fill="#29c2e3"/>
<rect x="623" y="692" width="2" height="2" fill="#29c2e3"/>
<rect x="630" y="690" width="2" height="4" fill="#29c2e3"/>
<rect x="637" y="686" width="2" height="8" fill="#29c2e3"/>
<rect x="644" y="682" width="2" height="12" fill="#29c2e3"/>
<rect x="650" y="678" width="2" height="16" fill="#29c2e3"/>
<rect x="657" y="676" width="2" height="18" fill="#29c2e3"/>
<rect x="664" y="674" width="2" height="20" fill="#29c2e3"/>
<rect x="671" y="675" width="2" height="19" fill="#29c2e3"/>
<rect x="677" y="675" width="2" height="19" fill="#29c2e3"/>
<rect x="684" y="676" width="2" height="18" fill="#29c2e3"/>
<rect x="691" y="678" width="2" height="16" fill="#29c2e3"/>
<rect x="698" y="682" width="2" height="12" fill="#29c2e3"/>
<rect x="704" y="690" width="2" height="4" fill="#29c2e3"/>
<rect x="718" y="693" width="2" height="7" fill="#f5a20a"/>
<rect x="725" y="693" width="2" height="14" fill="#f5a20a"/>
<rect x="731" y="693" width="2" height="20" fill="#f5a20a"/>
<rect x="738" y="693" width="2" height="27" fill="#f5a20a"/>
<rect x="745" y="693" width="2" height="37" fill="#f5a20a"/>
<rect x="752" y="693" width="2" height="46" fill="#f5a20a"/>
<rect x="758" y="693" width="2" height="52" fill="#f5a20a"/>
<rect x="765" y="693" width="2" height="58" fill="#f5a20a"/>
<rect x="772" y="693" width="2" height="62" fill="#f5a20a"/>
<rect x="778" y="693" width="2" height="65" fill="#f5a20a"/>
<rect x="785" y="693" width="2" height="65" fill="#f5a20a"/>
<rect x="792" y="693" width="2" height="64" fill="#f5a20a"/>
<rect x="799" y="693" width="2" height="62" fill="#f5a20a"/>
<rect x="805" y="693" width="2" height="59" fill="#f5a20a"/>
<rect x="812" y="693" width="2" height="57" fill="#f5a20a"/>
<rect x="819" y="693" width="2" height="53" fill="#f5a20a"/>
<rect x="826" y="693" width="2" height="49" fill="#f5a20a"/>
<rect x="832" y="693" width="2" height="47" fill="#f5a20a"/>
<rect x="839" y="693" width="2" height="46" fill="#f5a20a"/>
<rect x="846" y="693" width="2" height="43" fill="#f5a20a"/>
<rect x="853" y="693" width="2" height="39" fill="#f5a20a"/>
<rect x="859" y="693" width="2" height="36" fill="#f5a20a"/>
<rect x="866" y="693" width="2" height="33" fill="#f5a20a"/>
<rect x="873" y="693" width="2" height="33" fill="#f5a20a"/>
<rect x="880" y="693" width="2" height="33" fill="#f5a20a"/>
<rect x="886" y="693" width="2" height="32" fill="#f5a20a"/>
<rect x="893" y="693" width="2" height="32" fill="#f5a20a"/>
<rect x="900" y="693" width="2" height="30" fill="#f5a20a"/>
<rect x="907" y="693" width="2" height="30" fill="#f5a20a"/>
<rect x="913" y="693" width="2" height="30" fill="#f5a20a"/>
<rect x="920" y="693" width="2" height="31" fill="#f5a20a"/>
<rect x="927" y="693" width="2" height="30" fill="#f5a20a"/>
<rect x="933" y="693" width="2" height="28" fill="#f5a20a"/>
<rect x="940" y="693" width="2" height="25" fill="#f5a20a"/>
<rect x="947" y="693" width="2" height="20" fill="#f5a20a"/>
<rect x="954" y="693" width="2" height="13" fill="#f5a20a"/>
<rect x="967" y="690" width="2" height="4" fill="#29c2e3"/>
<rect x="974" y="682" width="2" height="12" fill="#29c2e3"/>
<rect x="981" y="678" width="2" height="16" fill="#29c2e3"/>
<rect x="987" y="675" width="2" height="19" fill="#29c2e3"/>
<rect x="994" y="671" width="2" height="23" fill="#29c2e3"/>
<rect x="1001" y="670" width="2" height="24" fill="#29c2e3"/>
<rect x="1008" y="670" width="2" height="24" fill="#29c2e3"/>
<rect x="1014" y="665" width="2" height="29" fill="#29c2e3"/>
<rect x="1021" y="657" width="2" height="37" fill="#29c2e3"/>
<rect x="1028" y="638" width="2" height="56" fill="#29c2e3"/>
</g>
<circle cx="24" cy="693.5" r="2.95" fill="#60b562"/>
<circle cx="31" cy="693.5" r="2.95" fill="#60b562"/>
<circle cx="37" cy="693.5" r="2.95" fill="#60b562"/>
<circle cx="44" cy="693.5" r="2.95" fill="#60b562"/>
<circle cx="51" cy="693.5" r="2.95" fill="#60b562"/>
<circle cx="58" cy="693.5" r="2.95" fill="#60b562"/>
<circle cx="64" cy="693.5" r="2.95" fill="#60b562"/>
<circle cx="71" cy="693.5" r="2.95" fill="#60b562"/>
<circle cx="78" cy="693.5" r="2.95" fill="#60b562"/>
<circle cx="85" cy="693.5" r="2.95" fill="#60b562"/>
<circle cx="91" cy="693.5" r="2.95" fill="#60b562"/>
<circle cx="98" cy="693.5" r="2.95" fill="#60b562"/>
<circle cx="105" cy="693.5" r="2.95" fill="#60b562"/>
<circle cx="112" cy="693.5" r="2.95" fill="#60b562"/>
<circle cx="118" cy="693.5" r="2.95" fill="#60b562"/>
<circle cx="125" cy="693.5" r="2.95" fill="#60b562"/>
<circle cx="132" cy="693.5" r="2.95" fill="#60b562"/>
<circle cx="139" cy="693.5" r="2.95" fill="#60b562"/>
<circle cx="145" cy="693.5" r="2.95" fill="#60b562"/>
<circle cx="152" cy="693.5" r="2.95" fill="#60b562"/>
<circle cx="159" cy="693.5" r="2.95" fill="#60b562"/>
<circle cx="165" cy="693.5" r="2.95" fill="#60b562"/>
<circle cx="172" cy="693.5" r="2.95" fill="#60b562"/>
<circle cx="179" cy="693.5" r="2.95" fill="#60b562"/>
<circle cx="186" cy="693.5" r="2.95" fill="#60b562"/>
<circle cx="192" cy="693.5" r="2.95" fill="#60b562"/>
<circle cx="199" cy="693.5" r="2.95" fill="#60b562"/>
<circle cx="206" cy="693.5" r="2.95" fill="#60b562"/>
<circle cx="213" cy="693.5" r="2.95" fill="#60b562"/>
<circle cx="219" cy="693.5" r="2.95" fill="#60b562"/>
<circle cx="226" cy="693.5" r="2.95" fill="#60b562"/>
<circle cx="233" cy="693.5" r="2.95" fill="#e5484d"/>
<circle cx="240" cy="693.5" r="2.95" fill="#e5484d"/>
<circle cx="246" cy="693.5" r="2.95" fill="#e5484d"/>
<circle cx="253" cy="693.5" r="2.95" fill="#e5484d"/>
<circle cx="260" cy="693.5" r="2.95" fill="#e5484d"/>
<circle cx="267" cy="693.5" r="2.95" fill="#e5484d"/>
<circle cx="273" cy="693.5" r="2.95" fill="#e5484d"/>
<circle cx="280" cy="693.5" r="2.95" fill="#e5484d"/>
<circle cx="287" cy="693.5" r="2.95" fill="#e5484d"/>
<circle cx="293" cy="693.5" r="2.95" fill="#e5484d"/>
<circle cx="300" cy="693.5" r="2.95" fill="#e5484d"/>
<circle cx="307" cy="693.5" r="2.95" fill="#e5484d"/>
<circle cx="314" cy="693.5" r="2.95" fill="#e5484d"/>
<circle cx="320" cy="693.5" r="2.95" fill="#e5484d"/>
<circle cx="327" cy="693.5" r="2.95" fill="#e5484d"/>
<circle cx="334" cy="693.5" r="2.95" fill="#e5484d"/>
<circle cx="341" cy="693.5" r="2.95" fill="#e5484d"/>
<circle cx="347" cy="693.5" r="2.95" fill="#e5484d"/>
<circle cx="354" cy="693.5" r="2.95" fill="#60b562"/>
<circle cx="361" cy="693.5" r="2.95" fill="#60b562"/>
<circle cx="368" cy="693.5" r="2.95" fill="#60b562"/>
<circle cx="374" cy="693.5" r="2.95" fill="#60b562"/>
<circle cx="381" cy="693.5" r="2.95" fill="#60b562"/>
<circle cx="388" cy="693.5" r="2.95" fill="#60b562"/>
<circle cx="395" cy="693.5" r="2.95" fill="#60b562"/>
<circle cx="401" cy="693.5" r="2.95" fill="#60b562"/>
<circle cx="408" cy="693.5" r="2.95" fill="#60b562"/>
<circle cx="415" cy="693.5" r="2.95" fill="#60b562"/>
<circle cx="422" cy="693.5" r="2.95" fill="#60b562"/>
<circle cx="428" cy="693.5" r="2.95" fill="#60b562"/>
<circle cx="435" cy="693.5" r="2.95" fill="#60b562"/>
<circle cx="442" cy="693.5" r="2.95" fill="#e5484d"/>
<circle cx="448" cy="693.5" r="2.95" fill="#e5484d"/>
<circle cx="455" cy="693.5" r="2.95" fill="#e5484d"/>
<circle cx="462" cy="693.5" r="2.95" fill="#e5484d"/>
<circle cx="469" cy="693.5" r="2.95" fill="#e5484d"/>
<circle cx="475" cy="693.5" r="2.95" fill="#60b562"/>
<circle cx="482" cy="693.5" r="2.95" fill="#60b562"/>
<circle cx="489" cy="693.5" r="2.95" fill="#60b562"/>
<circle cx="496" cy="693.5" r="2.95" fill="#60b562"/>
<circle cx="502" cy="693.5" r="2.95" fill="#60b562"/>
<circle cx="509" cy="693.5" r="2.95" fill="#60b562"/>
<circle cx="516" cy="693.5" r="2.95" fill="#60b562"/>
<circle cx="523" cy="693.5" r="2.95" fill="#60b562"/>
<circle cx="529" cy="693.5" r="2.95" fill="#60b562"/>
<circle cx="536" cy="693.5" r="2.95" fill="#60b562"/>
<circle cx="543" cy="693.5" r="2.95" fill="#60b562"/>
<circle cx="550" cy="693.5" r="2.95" fill="#60b562"/>
<circle cx="556" cy="693.5" r="2.95" fill="#60b562"/>
<circle cx="563" cy="693.5" r="2.95" fill="#60b562"/>
<circle cx="570" cy="693.5" r="2.95" fill="#60b562"/>
<circle cx="577" cy="693.5" r="2.95" fill="#60b562"/>
<circle cx="583" cy="693.5" r="2.95" fill="#60b562"/>
<circle cx="590" cy="693.5" r="2.95" fill="#e5484d"/>
<circle cx="597" cy="693.5" r="2.95" fill="#e5484d"/>
<circle cx="603" cy="693.5" r="2.95" fill="#e5484d"/>
<circle cx="610" cy="693.5" r="2.95" fill="#e5484d"/>
<circle cx="617" cy="693.5" r="2.95" fill="#e5484d"/>
<circle cx="624" cy="693.5" r="2.95" fill="#e5484d"/>
<circle cx="630" cy="693.5" r="2.95" fill="#e5484d"/>
<circle cx="637" cy="693.5" r="2.95" fill="#e5484d"/>
<circle cx="644" cy="693.5" r="2.95" fill="#60b562"/>
<circle cx="651" cy="693.5" r="2.95" fill="#60b562"/>
<circle cx="657" cy="693.5" r="2.95" fill="#60b562"/>
<circle cx="664" cy="693.5" r="2.95" fill="#60b562"/>
<circle cx="671" cy="693.5" r="2.95" fill="#60b562"/>
<circle cx="678" cy="693.5" r="2.95" fill="#60b562"/>
<circle cx="684" cy="693.5" r="2.95" fill="#60b562"/>
<circle cx="691" cy="693.5" r="2.95" fill="#60b562"/>
<circle cx="698" cy="693.5" r="2.95" fill="#60b562"/>
<circle cx="705" cy="693.5" r="2.95" fill="#60b562"/>
<circle cx="711" cy="693.5" r="2.95" fill="#60b562"/>
<circle cx="718" cy="693.5" r="2.95" fill="#60b562"/>
<circle cx="725" cy="693.5" r="2.95" fill="#60b562"/>
<circle cx="731" cy="693.5" r="2.95" fill="#60b562"/>
<circle cx="738" cy="693.5" r="2.95" fill="#60b562"/>
<circle cx="745" cy="693.5" r="2.95" fill="#60b562"/>
<circle cx="752" cy="693.5" r="2.95" fill="#60b562"/>
<circle cx="758" cy="693.5" r="2.95" fill="#60b562"/>
<circle cx="765" cy="693.5" r="2.95" fill="#60b562"/>
<circle cx="772" cy="693.5" r="2.95" fill="#60b562"/>
<circle cx="779" cy="693.5" r="2.95" fill="#60b562"/>
<circle cx="785" cy="693.5" r="2.95" fill="#60b562"/>
<circle cx="792" cy="693.5" r="2.95" fill="#60b562"/>
<circle cx="799" cy="693.5" r="2.95" fill="#60b562"/>
<circle cx="806" cy="693.5" r="2.95" fill="#60b562"/>
<circle cx="812" cy="693.5" r="2.95" fill="#60b562"/>
<circle cx="819" cy="693.5" r="2.95" fill="#60b562"/>
<circle cx="826" cy="693.5" r="2.95" fill="#60b562"/>
<circle cx="833" cy="693.5" r="2.95" fill="#60b562"/>
<circle cx="839" cy="693.5" r="2.95" fill="#60b562"/>
<circle cx="846" cy="693.5" r="2.95" fill="#60b562"/>
<circle cx="853" cy="693.5" r="2.95" fill="#60b562"/>
<circle cx="860" cy="693.5" r="2.95" fill="#60b562"/>
<circle cx="866" cy="693.5" r="2.95" fill="#60b562"/>
<circle cx="873" cy="693.5" r="2.95" fill="#60b562"/>
<circle cx="880" cy="693.5" r="2.95" fill="#60b562"/>
<circle cx="886" cy="693.5" r="2.95" fill="#60b562"/>
<circle cx="893" cy="693.5" r="2.95" fill="#60b562"/>
<circle cx="900" cy="693.5" r="2.95" fill="#60b562"/>
<circle cx="907" cy="693.5" r="2.95" fill="#60b562"/>
<circle cx="913" cy="693.5" r="2.95" fill="#60b562"/>
<circle cx="920" cy="693.5" r="2.95" fill="#60b562"/>
<circle cx="927" cy="693.5" r="2.95" fill="#60b562"/>
<circle cx="934" cy="693.5" r="2.95" fill="#60b562"/>
<circle cx="940" cy="693.5" r="2.95" fill="#60b562"/>
<circle cx="947" cy="693.5" r="2.95" fill="#60b562"/>
<circle cx="954" cy="693.5" r="2.95" fill="#60b562"/>
<circle cx="961" cy="693.5" r="2.95" fill="#60b562"/>
<circle cx="967" cy="693.5" r="2.95" fill="#60b562"/>
<circle cx="974" cy="693.5" r="2.95" fill="#60b562"/>
<circle cx="981" cy="693.5" r="2.95" fill="#60b562"/>
<circle cx="988" cy="693.5" r="2.95" fill="#60b562"/>
<circle cx="994" cy="693.5" r="2.95" fill="#60b562"/>
<circle cx="1001" cy="693.5" r="2.95" fill="#60b562"/>
<circle cx="1008" cy="693.5" r="2.95" fill="#60b562"/>
<circle cx="1015" cy="693.5" r="2.95" fill="#60b562"/>
<circle cx="1021" cy="693.5" r="2.95" fill="#60b562"/>
<circle cx="1028" cy="693.5" r="2.95" fill="#60b562"/>
<g shape-rendering="crispEdges"><rect x="21" y="769" width="1132" height="1" fill="#8a8a8a"/>
<rect x="70" y="769" width="1" height="10" fill="#8a8a8a"/>
<rect x="130" y="769" width="1" height="10" fill="#8a8a8a"/>
<rect x="198" y="769" width="1" height="10" fill="#8a8a8a"/>
<rect x="258" y="769" width="1" height="10" fill="#8a8a8a"/>
<rect x="319" y="769" width="1" height="10" fill="#8a8a8a"/>
<rect x="386" y="769" width="1" height="10" fill="#8a8a8a"/>
<rect x="454" y="769" width="1" height="10" fill="#8a8a8a"/>
<rect x="521" y="769" width="1" height="10" fill="#8a8a8a"/>
<rect x="582" y="769" width="1" height="10" fill="#8a8a8a"/>
<rect x="649" y="769" width="1" height="10" fill="#8a8a8a"/>
<rect x="716" y="769" width="1" height="10" fill="#8a8a8a"/>
<rect x="784" y="769" width="1" height="10" fill="#8a8a8a"/>
<rect x="851" y="769" width="1" height="10" fill="#8a8a8a"/>
<rect x="919" y="769" width="1" height="10" fill="#8a8a8a"/>
<rect x="979" y="769" width="1" height="10" fill="#8a8a8a"/>
<rect x="1047" y="769" width="1" height="10" fill="#8a8a8a"/>
<rect x="1107" y="769" width="1" height="10" fill="#8a8a8a"/>
</g>
<text x="50.4" y="788" font-size="11.5" fill="#999" textLength="40.6" lengthAdjust="spacingAndGlyphs">19. May</text>
<text x="116.5" y="788" font-size="11.5" fill="#999" textLength="29.7" lengthAdjust="spacingAndGlyphs">2. Jun</text>
<text x="180.5" y="788" font-size="11.5" fill="#999" textLength="36.5" lengthAdjust="spacingAndGlyphs">16. Jun</text>
<text x="241.0" y="788" font-size="11.5" fill="#999" textLength="36.8" lengthAdjust="spacingAndGlyphs">30. Jun</text>
<text x="303.6" y="788" font-size="11.5" fill="#999" textLength="32.8" lengthAdjust="spacingAndGlyphs">14. Jul</text>
<text x="370.2" y="788" font-size="11.5" fill="#999" textLength="34.5" lengthAdjust="spacingAndGlyphs">28. Jul</text>
<text x="434.5" y="788" font-size="11.5" fill="#999" textLength="40.6" lengthAdjust="spacingAndGlyphs">11. Aug</text>
<text x="501.9" y="788" font-size="11.5" fill="#999" textLength="40.6" lengthAdjust="spacingAndGlyphs">25. Aug</text>
<text x="566.8" y="788" font-size="11.5" fill="#999" textLength="32.1" lengthAdjust="spacingAndGlyphs">8. Sep</text>
<text x="630.8" y="788" font-size="11.5" fill="#999" textLength="38.9" lengthAdjust="spacingAndGlyphs">22. Sep</text>
<text x="702.1" y="788" font-size="11.5" fill="#999" textLength="31.1" lengthAdjust="spacingAndGlyphs">6. Oct</text>
<text x="765.5" y="788" font-size="11.5" fill="#999" textLength="38.9" lengthAdjust="spacingAndGlyphs">20. Oct</text>
<text x="835.3" y="788" font-size="11.5" fill="#999" textLength="34.2" lengthAdjust="spacingAndGlyphs">3. Nov</text>
<text x="899.5" y="788" font-size="11.5" fill="#999" textLength="40.6" lengthAdjust="spacingAndGlyphs">17. Nov</text>
<text x="964.0" y="788" font-size="11.5" fill="#999" textLength="32.8" lengthAdjust="spacingAndGlyphs">1. Dec</text>
<text x="1028.2" y="788" font-size="11.5" fill="#999" textLength="39.2" lengthAdjust="spacingAndGlyphs">15. Dec</text>
<text x="1088.5" y="788" font-size="11.5" fill="#999" textLength="39.8" lengthAdjust="spacingAndGlyphs">29. Dec</text>
<text x="1127.5" y="95.1" font-size="11.5" fill="#999" textLength="29.8" lengthAdjust="spacingAndGlyphs">27.82</text>
<text x="1127.5" y="145.5" font-size="11.5" fill="#999" textLength="29.8" lengthAdjust="spacingAndGlyphs">26.15</text>
<text x="1127.5" y="195.9" font-size="11.5" fill="#999" textLength="29.8" lengthAdjust="spacingAndGlyphs">24.58</text>
<text x="1127.5" y="246.3" font-size="11.5" fill="#999" textLength="29.8" lengthAdjust="spacingAndGlyphs">23.11</text>
<text x="1127.5" y="296.7" font-size="11.5" fill="#999" textLength="29.8" lengthAdjust="spacingAndGlyphs">21.72</text>
<text x="1127.5" y="347.1" font-size="11.5" fill="#999" textLength="29.8" lengthAdjust="spacingAndGlyphs">20.42</text>
<text x="1127.5" y="397.5" font-size="11.5" fill="#999" textLength="29.8" lengthAdjust="spacingAndGlyphs">19.20</text>
<text x="1127.5" y="447.9" font-size="11.5" fill="#999" textLength="29.8" lengthAdjust="spacingAndGlyphs">18.05</text>
<text x="1127.5" y="498.3" font-size="11.5" fill="#999" textLength="29.8" lengthAdjust="spacingAndGlyphs">16.97</text>
<text x="1127.5" y="548.7" font-size="11.5" fill="#999" textLength="29.8" lengthAdjust="spacingAndGlyphs">15.95</text>
<text x="1127.5" y="599.1" font-size="11.5" fill="#999" textLength="29.8" lengthAdjust="spacingAndGlyphs">14.99</text>
<rect x="1119" y="37" width="43" height="19" rx="2.5" fill="#777"/>
<text x="1126.2" y="49.8" font-size="10.9" font-weight="bold" fill="#fff" textLength="30" lengthAdjust="spacingAndGlyphs">29.57</text>
<clipPath id="cl5"><rect x="1100" y="763" width="60" height="7"/></clipPath>
<text x="1122.5" y="662.8" font-size="11.5" fill="#999" textLength="30" lengthAdjust="spacingAndGlyphs">2.500</text>
<text x="1122.5" y="697.8" font-size="11.5" fill="#999" textLength="30" lengthAdjust="spacingAndGlyphs">0.000</text>
<text x="1115.9" y="733.8" font-size="11.5" fill="#999" textLength="36.6" lengthAdjust="spacingAndGlyphs">−2.500</text>
<text x="1115.9" y="769" font-size="11.5" fill="#999" textLength="36.6" lengthAdjust="spacingAndGlyphs" clip-path="url(#cl5)">−5.000</text>
<text x="1153.2" y="766" font-size="10" fill="#aaa" text-anchor="end" textLength="89" lengthAdjust="spacingAndGlyphs">Your local time zone</text>
<g fill="none" stroke="#2a8f86" stroke-width="0.7">
<circle cx="38.5" cy="27.4" r="1.95"/>
<circle cx="26.9" cy="29.5" r="1.95"/>
<circle cx="34.1" cy="32" r="1.95"/>
<circle cx="22.5" cy="36.5" r="1.95"/>
<circle cx="30" cy="36.7" r="1.95"/>
<circle cx="35.2" cy="39" r="1.95"/>
<circle cx="42.3" cy="42" r="1.95"/>
<circle cx="26.9" cy="44.5" r="1.95"/>
<path d="M27.8 31.6 L29.2 34.6 M29.2 38.9 L27.8 42.3"/>
</g>
<text x="50" y="43" font-size="24.8" font-weight="bold" fill="#fff" textLength="67.5" lengthAdjust="spacingAndGlyphs">Trend</text>
<text x="117.8" y="43" font-size="24.8" fill="#dcdcdc" textLength="72.6" lengthAdjust="spacingAndGlyphs">Spider</text>
<text y="40" font-size="12" font-weight="bold" fill="#fff"><tspan x="204.3" textLength="21.3" lengthAdjust="spacingAndGlyphs">Dec</tspan> <tspan x="231.2" textLength="15.5" lengthAdjust="spacingAndGlyphs">11,</tspan> <tspan x="252.5" textLength="29.7" lengthAdjust="spacingAndGlyphs">2025</tspan> <tspan x="287" textLength="43.8" lengthAdjust="spacingAndGlyphs">8:17AM</tspan> <tspan x="335.8" textLength="19.7" lengthAdjust="spacingAndGlyphs">EST</tspan></text>
<text x="22.5" y="71.7" font-size="12" font-weight="bold" fill="#f2f2f2" textLength="314" lengthAdjust="spacingAndGlyphs">WRBY, Daily, Hollow Candles chart (Logarithmic scale)</text>
<text x="19.8" y="809.7" font-size="9.6" font-weight="bold" fill="#fff" textLength="87.5" lengthAdjust="spacingAndGlyphs">©2025 TrendSpider</text>
</svg></body></html>
